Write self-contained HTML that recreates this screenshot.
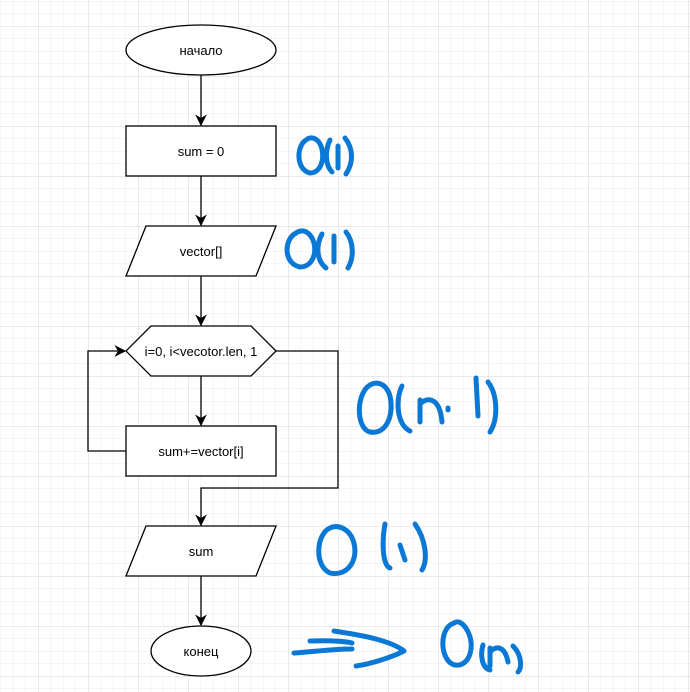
<!DOCTYPE html>
<html><head><meta charset="utf-8"><style>
html,body{margin:0;padding:0;background:#fff}
svg{display:block}
text{font-family:"Liberation Sans","DejaVu Sans",sans-serif;font-size:13px;fill:#000}
</style></head><body>
<svg width="690" height="692" viewBox="0 0 690 692">
<defs>
<pattern id="minor" x="38" y="26" width="12.5" height="12.5" patternUnits="userSpaceOnUse">
<path d="M0 0H12.5M0 0V12.5" stroke="#ebebeb" stroke-width="1" fill="none"/></pattern>
<pattern id="major" x="38" y="26" width="50" height="50" patternUnits="userSpaceOnUse">
<path d="M0 0H50M0 0V50" stroke="#d6d6d6" stroke-width="1" fill="none"/></pattern>
<marker id="ar" viewBox="0 0 10 10" refX="9" refY="5" markerWidth="9" markerHeight="9" orient="auto"><path d="M0 0L10 5L0 10L3 5z" fill="#000"/></marker>
</defs>
<rect width="690" height="692" fill="url(#minor)"/>
<rect width="690" height="692" fill="url(#major)"/>
<g stroke="#000" stroke-width="1.3" fill="none">
<path d="M201 75V125" marker-end="url(#ar)"/>
<path d="M201 176V225" marker-end="url(#ar)"/>
<path d="M201 276V325" marker-end="url(#ar)"/>
<path d="M201 376V425" marker-end="url(#ar)"/>
<path d="M126 451H88V351H125" marker-end="url(#ar)"/>
<path d="M276 351H338V488H201V525" marker-end="url(#ar)"/>
<path d="M201 576V625" marker-end="url(#ar)"/>
</g>
<g stroke="#000" stroke-width="1.3" fill="#fff">
<ellipse cx="201" cy="50" rx="75" ry="25"/>
<rect x="126" y="126" width="150" height="50"/>
<polygon points="146,226 276,226 256,276 126,276"/>
<polygon points="151,326 251,326 276,351 251,376 151,376 126,351"/>
<rect x="126" y="426" width="150" height="50"/>
<polygon points="146,526 276,526 256,576 126,576"/>
<ellipse cx="201" cy="651" rx="50" ry="25"/>
</g>
<g text-anchor="middle">
<text x="201" y="55">начало</text>
<text x="201" y="156">sum = 0</text>
<text x="201" y="256">vector[]</text>
<text x="201" y="356">i=0, i&lt;vecotor.len, 1</text>
<text x="201" y="456">sum+=vector[i]</text>
<text x="201" y="556">sum</text>
<text x="201" y="656">конец</text>
</g>
<g stroke="#0a78d4" stroke-width="5" fill="none" stroke-linecap="round" stroke-linejoin="round">
<g>
<path d="M306 140C296 146 296 170 310 173C324 173 326 150 318 141C313 136 308 138 306 140"/>
<path d="M330 140C325 150 325 165 332 172"/>
<path d="M338 146V168"/>
<path d="M345 138C353 148 354 162 346 174"/>
</g>
<g>
<path d="M296 233C283 240 284 264 300 267C316 267 319 244 309 234C304 229 299 231 296 233"/>
<path d="M322 234C316 245 316 260 326 268"/>
<path d="M334 236V262"/>
<path d="M346 232C354 242 354 258 348 268"/>
</g>
<g>
<path d="M372 384C356 390 355 428 370 432C388 435 394 412 390 396C387 386 380 381 372 384"/>
<path d="M402 386C395 400 397 425 410 431"/>
<path d="M420 400V422M420 404C428 396 440 398 442 422"/>
<path d="M448 408V410"/>
<path d="M476 378L478 416"/>
<path d="M488 382C498 395 498 420 490 432"/>
</g>
<g>
<path d="M330 528C316 534 314 566 330 573C347 577 360 560 353 540C349 529 338 524 330 528"/>
<path d="M385 524C382 540 382 565 390 568"/>
<path d="M400 545L405 560"/>
<path d="M415 524C426 540 428 560 422 570"/>
</g>
<g>
<path d="M294 653C320 651 335 649 352 649"/>
<path d="M310 641C335 640 348 642 352 643"/>
<path d="M334 631C360 635 390 640 404 651C390 658 370 664 356 666"/>
</g>
<g>
<path d="M454 623C438 628 440 662 455 665C470 667 476 645 467 630C462 621 457 621 454 623"/>
<path d="M483 645C480 655 482 668 490 670"/>
<path d="M490 648V666M490 652C496 645 505 646 508 662"/>
<path d="M513 646C522 655 522 668 518 672"/>
</g>
</g>
</svg>
</body></html>
